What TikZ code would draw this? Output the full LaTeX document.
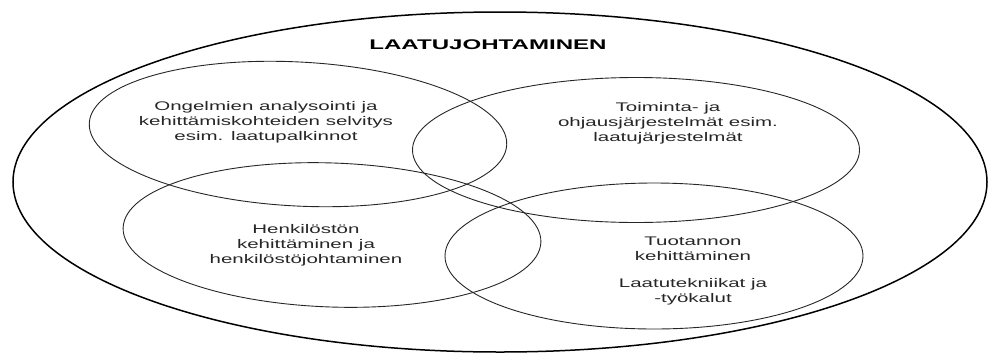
\documentclass[tikz,border=0pt]{standalone}
\usepackage{fontspec}
\setmainfont{Liberation Sans}
\usetikzlibrary{shapes.geometric}
\begin{document}
\begin{tikzpicture}[x=1pt,y=-1pt,
  ring/.style={draw=black!85, line width=0.9pt, ellipse, inner sep=0pt},
  outerring/.style={draw=black, line width=1.5pt, ellipse, inner sep=0pt},
  lbl/.style={align=center, font=\fontsize{12.5}{15}\selectfont, xscale=1.64, text=black!85},
  ttl/.style={font=\fontsize{14}{16}\selectfont\bfseries, xscale=1.72}]
\useasboundingbox (0,0) rectangle (988,354);
\node[outerring, minimum width=974pt, minimum height=340pt] (outer) at (500,182) {};
\node[ring, minimum width=418pt, minimum height=144pt, rotate=-3] (e1) at (298,134) {};
\node[ring, minimum width=447pt, minimum height=145pt] (e2) at (636,150) {};
\node[ring, minimum width=418pt, minimum height=144pt, rotate=-2] (e3) at (332,235) {};
\node[ring, minimum width=418pt, minimum height=146pt] (e4) at (654,256) {};
\node[ttl] (title) at (488,45) {LAATUJOHTAMINEN};
\node[lbl] (t1) at (266,122) {Ongelmien analysointi ja\\kehittämiskohteiden selvitys\\esim. laatupalkinnot};
\node[lbl] (t2) at (668,123) {Toiminta- ja\\ohjausjärjestelmät esim.\\laatujärjestelmät};
\node[lbl] (t3) at (306,245) {Henkilöstön\\kehittäminen ja\\henkilöstöjohtaminen};
\node[lbl] (t4) at (693,271) {Tuotannon\\kehittäminen\\[12pt]Laatutekniikat ja\\-työkalut};
\end{tikzpicture}
\end{document}
